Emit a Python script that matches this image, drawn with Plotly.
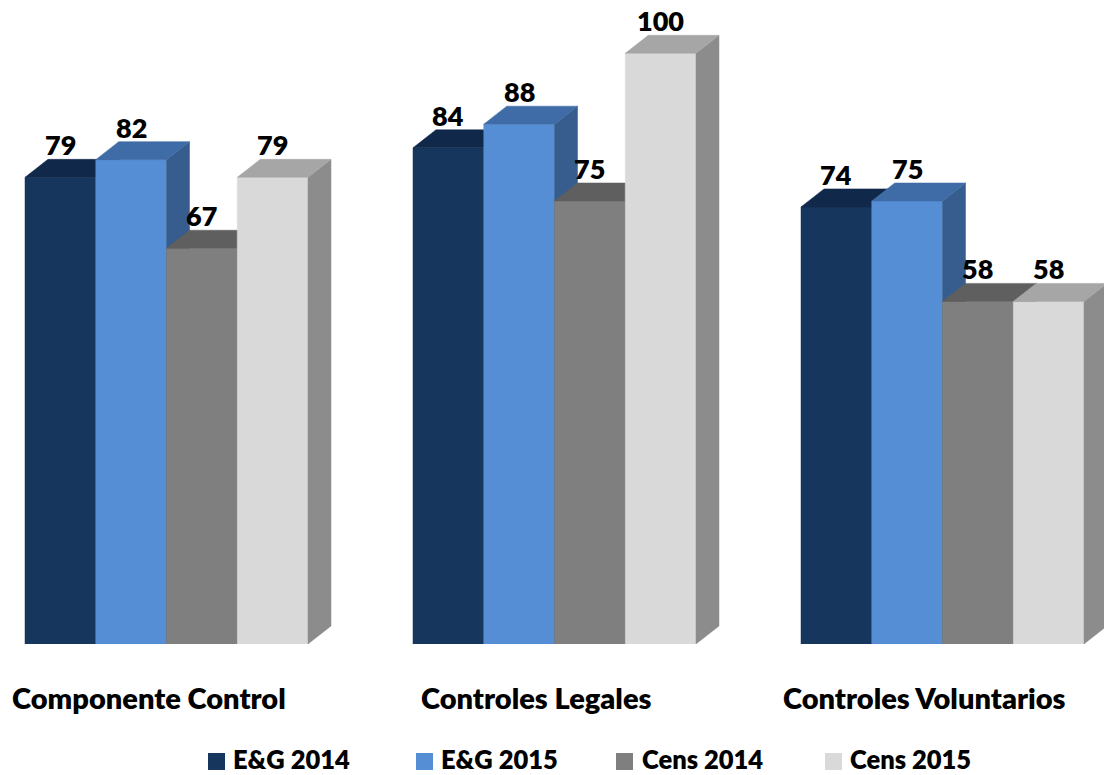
import plotly.graph_objects as go

categories = ["Componente Control", "Controles Legales", "Controles Voluntarios"]
series_names = ["E&G 2014", "E&G 2015", "Cens 2014", "Cens 2015"]
eg_2014 = [79, 84, 74]
eg_2015 = [82, 88, 75]
cens_2014 = [67, 75, 58]
cens_2015 = [79, 100, 58]
series_values = [eg_2014, eg_2015, cens_2014, cens_2015]

front_colors = ["#17365D", "#558ED5", "#7F7F7F", "#D9D9D9"]
top_colors = ["#10284A", "#3F6CA6", "#5F5F5F", "#A6A6A6"]
side_colors = ["#0E2240", "#365D8D", "#555555", "#8C8C8C"]

W, H = 1104, 775
unit_px = 70.75          # bar width in px
group_pitch = 388 / unit_px
base_px = 644            # baseline pixel row
px_per_val = 5.907
dx = 23 / unit_px        # depth offset (x, data units)
dy = 18 / px_per_val     # depth offset (y, data units)
xmin = -25 / unit_px
xmax = xmin + W / unit_px
ymax = base_px / px_per_val

FONT = "Lato"
WEIGHT = 800

fig = go.Figure()

for g, cat in enumerate(categories):
    gx = g * group_pitch
    for s, name in enumerate(series_names):
        v = series_values[s][g]
        x0 = gx + s
        x1 = x0 + 1
        # front face
        fig.add_trace(go.Scatter(
            x=[x0, x1, x1, x0, x0], y=[0, 0, v, v, 0],
            fill="toself", fillcolor=front_colors[s], mode="lines",
            line=dict(color=front_colors[s], width=0.5),
            hoverinfo="skip", showlegend=False))
        # side face
        fig.add_trace(go.Scatter(
            x=[x1, x1 + dx, x1 + dx, x1, x1], y=[0, dy, v + dy, v, 0],
            fill="toself", fillcolor=side_colors[s], mode="lines",
            line=dict(color=side_colors[s], width=0.5),
            hoverinfo="skip", showlegend=False))
        # top face
        fig.add_trace(go.Scatter(
            x=[x0, x0 + dx, x1 + dx, x1, x0], y=[v, v + dy, v + dy, v, v],
            fill="toself", fillcolor=top_colors[s], mode="lines",
            line=dict(color=top_colors[s], width=0.5),
            hoverinfo="skip", showlegend=False))

annotations = []
for g, cat in enumerate(categories):
    gx = g * group_pitch
    for s in range(len(series_names)):
        v = series_values[s][g]
        annotations.append(dict(
            x=gx + s + 0.5, y=v + dy, xref="x", yref="y",
            text=str(v), showarrow=False, yanchor="bottom", yshift=-4,
            font=dict(family=FONT, size=27, color="black", weight=WEIGHT)))
    annotations.append(dict(
        x=gx + 2 - 0.25, y=(base_px - 697) / base_px, xref="x", yref="paper",
        text=cat, showarrow=False, yanchor="middle", xanchor="center",
        font=dict(family=FONT, size=29, color="black", weight=WEIGHT)))

legend_sq_x = [208, 416, 616, 825]
legend_tx_x = [232, 440, 641, 849]
shapes = []
for s, name in enumerate(series_names):
    shapes.append(dict(
        type="rect", xref="paper", yref="paper",
        x0=legend_sq_x[s] / W, x1=(legend_sq_x[s] + 17) / W,
        y0=(base_px - 770) / base_px, y1=(base_px - 753) / base_px,
        fillcolor=front_colors[s], line=dict(width=0)))
    annotations.append(dict(
        x=legend_tx_x[s] / W, y=(base_px - 759) / base_px, xref="paper", yref="paper",
        text=name, showarrow=False, xanchor="left", yanchor="middle", borderpad=0,
        font=dict(family=FONT, size=25.5, color="black", weight=WEIGHT)))

fig.update_layout(
    width=W, height=H,
    margin=dict(l=0, r=0, t=0, b=H - base_px, pad=0),
    paper_bgcolor="white", plot_bgcolor="white",
    xaxis=dict(range=[xmin, xmax], visible=False, fixedrange=True),
    yaxis=dict(range=[0, ymax], visible=False, fixedrange=True),
    annotations=annotations, shapes=shapes,
    showlegend=False,
)

fig.write_html(
    "out.html",
    config={"displayModeBar": False},
    post_script="document.body.style.margin='0';document.body.style.overflow='hidden';",
)
